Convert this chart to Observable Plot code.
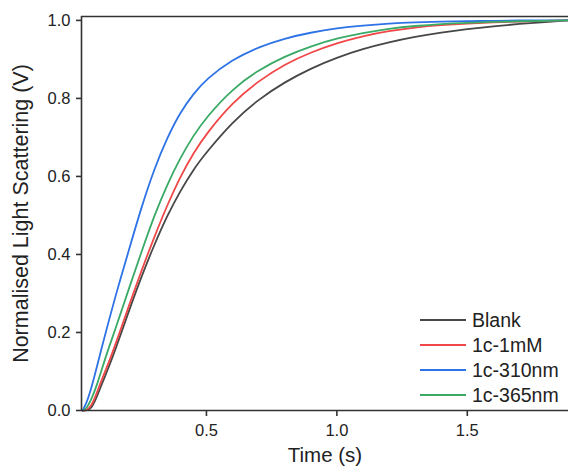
<!DOCTYPE html>
<html>
<head>
<meta charset="utf-8">
<script src="https://cdn.jsdelivr.net/npm/d3@7"></script>
<script src="https://cdn.jsdelivr.net/npm/@observablehq/plot@0.6"></script>
<style>
  html, body { margin: 0; padding: 0; background: #fff; }
  #chart { width: 568px; height: 472px; }
</style>
</head>
<body>
<div id="chart"></div>
<script>
const times  = [0.025, 0.04, 0.06, 0.08, 0.10, 0.125, 0.15, 0.175, 0.2, 0.25, 0.3, 0.35, 0.4, 0.45, 0.5, 0.6, 0.7, 0.8, 0.9, 1.0, 1.1, 1.2, 1.3, 1.4, 1.5, 1.6, 1.7, 1.8, 1.888];
const blank  = [0, 0, 0.005, 0.035, 0.07, 0.11, 0.155, 0.202, 0.25, 0.342, 0.425, 0.50, 0.563, 0.618, 0.662, 0.74, 0.798, 0.842, 0.877, 0.905, 0.927, 0.944, 0.958, 0.969, 0.978, 0.985, 0.991, 0.996, 1.0];
const c1mM   = [0, 0, 0.012, 0.045, 0.082, 0.122, 0.167, 0.215, 0.263, 0.357, 0.445, 0.527, 0.60, 0.66, 0.71, 0.79, 0.845, 0.888, 0.918, 0.942, 0.96, 0.973, 0.982, 0.988, 0.992, 0.995, 0.997, 0.999, 1.0];
const c310nm = [0, 0.018, 0.06, 0.112, 0.165, 0.228, 0.29, 0.348, 0.405, 0.52, 0.62, 0.70, 0.765, 0.812, 0.85, 0.90, 0.932, 0.954, 0.969, 0.98, 0.987, 0.992, 0.995, 0.997, 0.998, 0.999, 1.0, 1.0, 1.0];
const c365nm = [0, 0.004, 0.03, 0.065, 0.108, 0.16, 0.207, 0.257, 0.307, 0.405, 0.50, 0.58, 0.648, 0.705, 0.752, 0.825, 0.873, 0.908, 0.934, 0.954, 0.968, 0.979, 0.986, 0.991, 0.994, 0.996, 0.998, 0.999, 1.0];
const seriesNames = ["Blank", "1c-1mM", "1c-310nm", "1c-365nm"];
const seriesColors = ["#474747", "#f04848", "#2e73e6", "#3aaa66"];
const yTicks = [0, 0.2, 0.4, 0.6, 0.8, 1.0];
const xTicks = [0.5, 1.0, 1.5];
const xLabel = "Time (s)";
const yLabel = "Normalised Light Scattering (V)";

const valuesBySeries = [blank, c1mM, c310nm, c365nm];
const rows = seriesNames.flatMap((name, i) =>
  times.map((t, j) => ({series: name, t, v: valuesBySeries[i][j]}))
);

const xDomain = [0.021, 1.888];
const yDomain = [0, 1.01];
const font = "'Liberation Sans', Arial, Helvetica, sans-serif";

const chart = Plot.plot({
  width: 568,
  height: 472,
  marginLeft: 81,
  marginRight: 0,
  marginTop: 16,
  marginBottom: 62,
  style: {fontFamily: font, color: "#222", background: "#fff", overflow: "visible"},
  x: {domain: xDomain},
  y: {domain: yDomain},
  color: {domain: seriesNames, range: seriesColors},
  marks: [
    Plot.lineY(rows, {x: "t", y: "v", z: "series", stroke: "series", strokeWidth: 1.8, curve: "basis"}),
    Plot.ruleY([yDomain[1]], {stroke: "#333", strokeWidth: 1.6}),
    Plot.ruleY([0], {stroke: "#333", strokeWidth: 1.6}),
    Plot.ruleX([xDomain[0]], {stroke: "#333", strokeWidth: 1.6}),
    Plot.axisY({ticks: yTicks, tickFormat: d3.format(".1f"), tickSize: 5, tickPadding: 6, fontSize: 16.5, label: null, stroke: "#333", strokeWidth: 1.6}),
    Plot.axisX({ticks: xTicks, tickFormat: d3.format(".1f"), tickSize: 6, tickPadding: 8, fontSize: 16.5, label: null, stroke: "#333", strokeWidth: 1.6}),
    Plot.text([yLabel], {frameAnchor: "left", dx: -60, rotate: -90, textAnchor: "middle", fontSize: 21.5, fill: "#222"}),
    Plot.text([xLabel], {frameAnchor: "bottom", dy: 51, textAnchor: "middle", fontSize: 20.5, fill: "#222"})
  ]
});

document.getElementById("chart").appendChild(chart);

// legend inside the plot area (bottom right)
const svg = d3.select(chart);
const lg = svg.append("g").attr("font-family", font).attr("font-size", 19.5).attr("text-anchor", "start");
seriesNames.forEach((name, i) => {
  const y = 320 + i * 25;
  lg.append("line").attr("x1", 420).attr("x2", 466).attr("y1", y).attr("y2", y)
    .attr("stroke", seriesColors[i]).attr("stroke-width", 1.8);
  lg.append("text").attr("x", 472).attr("y", y).attr("dy", "0.35em")
    .attr("fill", "#222").text(name);
});
</script>
</body>
</html>
